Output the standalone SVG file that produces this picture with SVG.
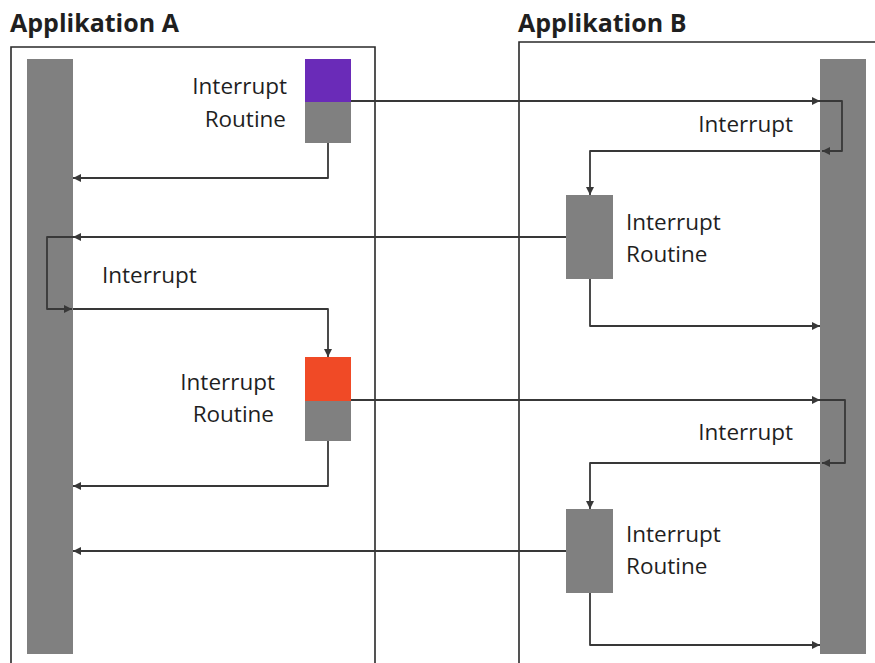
<svg xmlns="http://www.w3.org/2000/svg" width="875" height="663" viewBox="0 0 875 663">
  <style>
    .title { font-family: "Open Sans", "Liberation Sans", sans-serif; font-weight: 700; font-size: 25px; fill: #1f1f1f; }
    .label { font-family: "Open Sans", "Liberation Sans", sans-serif; font-size: 22.5px; fill: #1f1f1f; }
    .end { text-anchor: end; }
    .frame { fill: none; stroke: #2a2a2a; stroke-width: 1.6; }
    .bar { fill: #808080; }
    .conn path { fill: none; stroke: #383838; stroke-width: 1.8; stroke-linejoin: round; marker-end: url(#arrow); }
  </style>
  <defs>
    <marker id="arrow" viewBox="0 0 8 8" refX="8" refY="4" markerWidth="8" markerHeight="8" markerUnits="userSpaceOnUse" orient="auto">
      <path d="M0,0 L8,4 L0,8 z" fill="#383838"/>
    </marker>
  </defs>
  <rect width="875" height="663" fill="#ffffff"/>

  <!-- application A -->
  <g id="app-a">
    <text class="title" x="10" y="32">Applikation A</text>
    <path class="frame" d="M11,670 V47 H375 V670"/>
    <rect class="bar" x="27" y="59" width="46" height="595"/>
  </g>

  <!-- application B -->
  <g id="app-b">
    <text class="title" x="518" y="32">Applikation B</text>
    <path class="frame" d="M519,670 V42 H880"/>
    <rect class="bar" x="820" y="59" width="46" height="595"/>
  </g>

  <!-- interrupt routine in A (first) -->
  <g id="routine-a1">
    <rect x="305" y="59" width="46" height="43" fill="#6a2bb8"/>
    <rect class="bar" x="305" y="102" width="46" height="41"/>
    <text class="label end" x="287" y="94">Interrupt</text>
    <text class="label end" x="286" y="127">Routine</text>
  </g>

  <!-- interrupt routine in B (first) -->
  <g id="routine-b1">
    <rect class="bar" x="566" y="195" width="47" height="84"/>
    <text class="label" x="626" y="230">Interrupt</text>
    <text class="label" x="626" y="262">Routine</text>
  </g>

  <!-- interrupt routine in A (second) -->
  <g id="routine-a2">
    <rect x="305" y="357" width="46" height="44" fill="#f04a26"/>
    <rect class="bar" x="305" y="401" width="46" height="40"/>
    <text class="label end" x="275" y="390">Interrupt</text>
    <text class="label end" x="274" y="422">Routine</text>
  </g>

  <!-- interrupt routine in B (second) -->
  <g id="routine-b2">
    <rect class="bar" x="566" y="509" width="47" height="84"/>
    <text class="label" x="626" y="542">Interrupt</text>
    <text class="label" x="626" y="574">Routine</text>
  </g>

  <!-- interrupt labels on the loops -->
  <g id="interrupt-labels">
    <text class="label end" x="793" y="132">Interrupt</text>
    <text class="label" x="102" y="283">Interrupt</text>
    <text class="label end" x="793" y="440">Interrupt</text>
  </g>

  <!-- connectors -->
  <g id="connectors" class="conn">
    <path d="M328,143 V178 H73"/>
    <path d="M351,101 H820"/>
    <path d="M820,101 H842 V151 H822"/>
    <path d="M820,151 H590 V195"/>
    <path d="M566,237 H73"/>
    <path d="M73,237 H47 V309 H72"/>
    <path d="M73,309 H328 V357"/>
    <path d="M328,441 V486 H73"/>
    <path d="M590,279 V326 H820"/>
    <path d="M351,400 H820"/>
    <path d="M820,400 H845 V463 H822"/>
    <path d="M820,463 H590 V509"/>
    <path d="M566,551 H73"/>
    <path d="M590,593 V645 H820"/>
  </g>
</svg>
